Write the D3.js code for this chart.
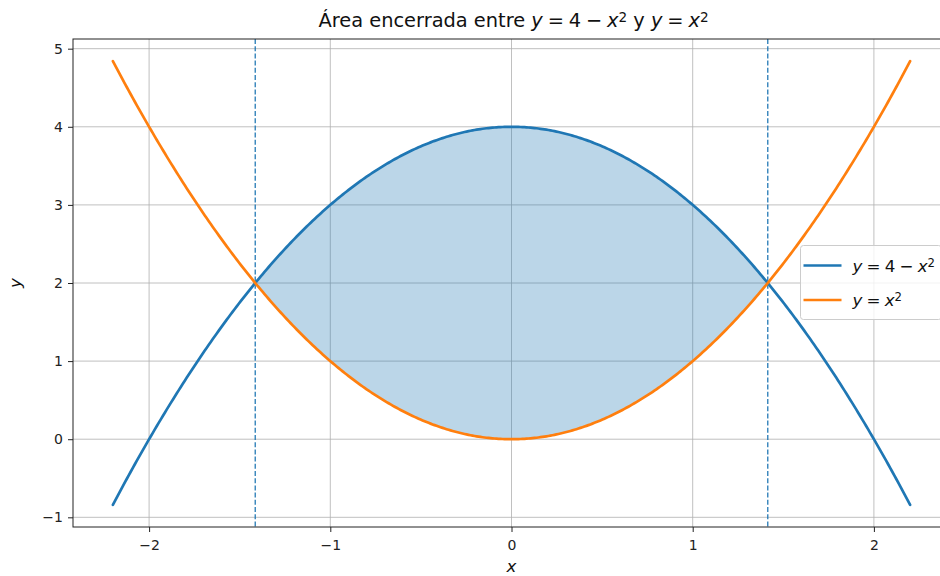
<!DOCTYPE html>
<html>
<head>
<meta charset="utf-8">
<script src="https://cdn.jsdelivr.net/npm/d3@7"></script>
<style>
  html, body { margin: 0; padding: 0; background: #fff; }
  svg { display: block; font-family: "DejaVu Sans", sans-serif; }
</style>
</head>
<body>
<svg id="chart" width="940" height="576"></svg>
<script>
// Curves: y = 4 - x^2 and y = x^2 on x in [-2.2, 2.2]
const xDomainData = [-2.2, 2.2];
const sampleCount = 400;
const upperCurve = x => 4 - x * x;
const lowerCurve = x => x * x;
const intersections = [-Math.SQRT2, Math.SQRT2];
const xTicks = [-2, -1, 0, 1, 2];
const yTicks = [-1, 0, 1, 2, 3, 4, 5];
const seriesColors = ["#1f77b4", "#ff7f0e"];

const xs = d3.range(sampleCount).map(i => xDomainData[0] + (xDomainData[1] - xDomainData[0]) * i / (sampleCount - 1));
const upperPts = xs.map(x => [x, upperCurve(x)]);
const lowerPts = xs.map(x => [x, lowerCurve(x)]);
const fillXs = xs.filter(x => x >= intersections[0] && x <= intersections[1]);
fillXs.unshift(intersections[0]); fillXs.push(intersections[1]);

const svg = d3.select("#chart");
const plotLeft = 73, plotRight = 950, plotTop = 39, plotBottom = 527;

const yMin = Math.min(d3.min(upperPts, d => d[1]), d3.min(lowerPts, d => d[1]));
const yMax = Math.max(d3.max(upperPts, d => d[1]), d3.max(lowerPts, d => d[1]));
const xm = (xDomainData[1] - xDomainData[0]) * 0.05;
const ym = (yMax - yMin) * 0.05;

const x = d3.scaleLinear().domain([xDomainData[0] - xm, xDomainData[1] + xm]).range([plotLeft, plotRight]);
const y = d3.scaleLinear().domain([yMin - ym, yMax + ym]).range([plotBottom, plotTop]);

const fmt = v => (v < 0 ? "\u2212" + Math.abs(v) : String(v));

// grid
const grid = svg.append("g");
grid.selectAll(".gx").data(xTicks).join("line")
  .attr("x1", d => x(d)).attr("x2", d => x(d)).attr("y1", plotTop).attr("y2", plotBottom)
  .attr("stroke", "#b0b0b0").attr("stroke-width", 0.8);
grid.selectAll(".gy").data(yTicks).join("line")
  .attr("y1", d => y(d)).attr("y2", d => y(d)).attr("x1", plotLeft).attr("x2", plotRight)
  .attr("stroke", "#b0b0b0").attr("stroke-width", 0.8);

// shaded region between curves
const area = d3.area().x(d => x(d)).y0(d => y(lowerCurve(d))).y1(d => y(upperCurve(d)));
svg.append("path").datum(fillXs).attr("d", area)
  .attr("fill", seriesColors[0]).attr("fill-opacity", 0.3);

// intersection markers
svg.selectAll(".vline").data(intersections).join("line")
  .attr("x1", d => x(d)).attr("x2", d => x(d)).attr("y1", plotTop).attr("y2", plotBottom)
  .attr("stroke", seriesColors[0]).attr("stroke-width", 1.4).attr("stroke-opacity", 0.9)
  .attr("stroke-dasharray", "5,2.2");

// curves
const line = d3.line().x(d => x(d[0])).y(d => y(d[1]));
svg.append("path").datum(upperPts).attr("d", line)
  .attr("fill", "none").attr("stroke", seriesColors[0]).attr("stroke-width", 2.7).attr("stroke-linecap", "round");
svg.append("path").datum(lowerPts).attr("d", line)
  .attr("fill", "none").attr("stroke", seriesColors[1]).attr("stroke-width", 2.7).attr("stroke-linecap", "round");

// axes
const xAxis = d3.axisBottom(x).tickValues(xTicks).tickFormat(fmt).tickSize(5).tickPadding(8);
const yAxis = d3.axisLeft(y).tickValues(yTicks).tickFormat(fmt).tickSize(5).tickPadding(5);
const gx = svg.append("g").attr("transform", `translate(0,${plotBottom})`).call(xAxis);
const gy = svg.append("g").attr("transform", `translate(${plotLeft},0)`).call(yAxis);
[gx, gy].forEach(g => {
  g.select(".domain").remove();
  g.selectAll(".tick line").attr("stroke", "#222").attr("stroke-width", 1);
  g.selectAll(".tick text").attr("fill", "#222").style("font-size", "14px").style("font-family", "DejaVu Sans");
});

// frame
svg.append("rect").attr("x", plotLeft).attr("y", plotTop).attr("width", plotRight - plotLeft).attr("height", plotBottom - plotTop)
  .attr("fill", "none").attr("stroke", "#222").attr("stroke-width", 1);

// math-style label helper
function mathText(sel, parts) {
  parts.forEach(p => {
    const t = sel.append("tspan").text(p.t);
    if (p.i) t.style("font-style", "italic");
    if (p.sup) t.attr("baseline-shift", "38%").style("font-size", "70%");
  });
}
const sp = "\u2005";
const eqUpper = [{t: "y", i: 1}, {t: sp + "=" + sp + "4" + sp + "\u2212" + sp}, {t: "x", i: 1}, {t: "2", sup: 1}];
const eqLower = [{t: "y", i: 1}, {t: sp + "=" + sp}, {t: "x", i: 1}, {t: "2", sup: 1}];

// title
const title = svg.append("text").attr("x", x(0) + 2).attr("y", 27).attr("text-anchor", "middle")
  .style("font-size", "19.4px").attr("fill", "#111");
title.append("tspan").text("Área encerrada entre ");
mathText(title, eqUpper);
title.append("tspan").text(" y ");
mathText(title, eqLower);

// axis labels
svg.append("text").attr("x", x(0)).attr("y", 572).attr("text-anchor", "middle")
  .style("font-size", "16.7px").style("font-style", "italic").attr("fill", "#111").text("x");
svg.append("text").attr("transform", `translate(21,${(plotTop + plotBottom) / 2}) rotate(-90)`).attr("text-anchor", "middle")
  .style("font-size", "16.7px").style("font-style", "italic").attr("fill", "#111").text("y");

// legend
const lg = svg.append("g").attr("transform", "translate(800.5,245.5)");
lg.append("rect").attr("width", 141).attr("height", 74).attr("rx", 3)
  .attr("fill", "#fff").attr("fill-opacity", 0.8).attr("stroke", "#cccccc").attr("stroke-width", 1);
[eqUpper, eqLower].forEach((eq, i) => {
  const cy = 20 + i * 34.5;
  lg.append("line").attr("x1", 3).attr("x2", 41).attr("y1", cy).attr("y2", cy)
    .attr("stroke", seriesColors[i]).attr("stroke-width", 2.7);
  const t = lg.append("text").attr("x", 52).attr("y", cy + 6).style("font-size", "16.7px").attr("fill", "#111");
  mathText(t, eq);
});
</script>
</body>
</html>
